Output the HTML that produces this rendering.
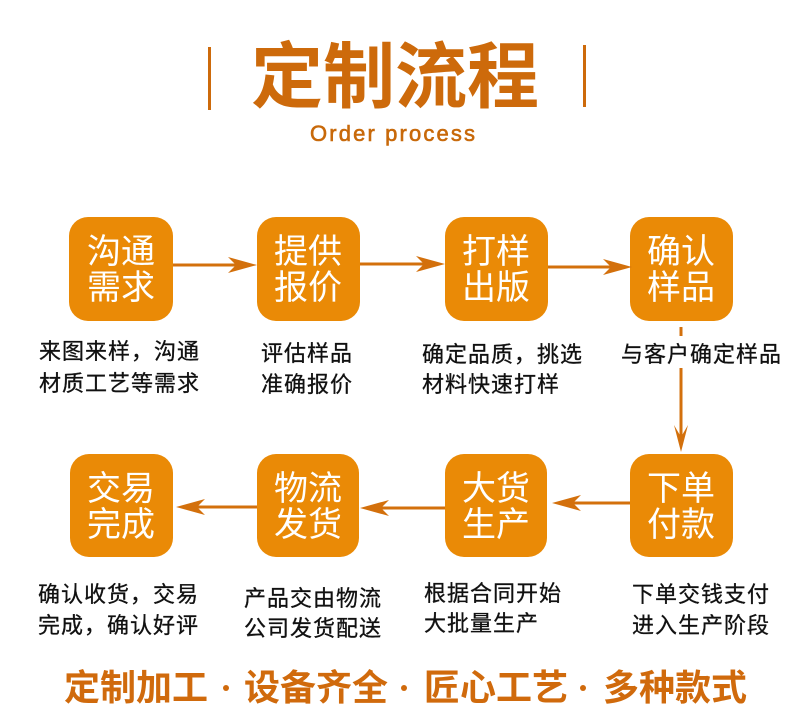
<!DOCTYPE html>
<html>
<head>
<meta charset="utf-8">
<style>
  html,body{margin:0;padding:0;background:#fff;}
  body{width:800px;height:727px;overflow:hidden;}
  svg{display:block;}
  .box{fill:#EA8A06;}
  .bt{font-family:"Liberation Sans","Noto Sans CJK SC",sans-serif;font-size:34px;fill:#fff;text-anchor:middle;}
  .d{font-family:"Liberation Sans","Noto Sans CJK SC",sans-serif;font-size:22px;fill:#111;letter-spacing:1px;stroke:#111;stroke-width:0.3;}
  .s{font-family:"Liberation Sans","Noto Sans CJK SC",sans-serif;font-size:36px;font-weight:700;fill:#D06A0C;}
  .ar{fill:#D3700C;}
</style>
</head>
<body>
<svg width="800" height="727" viewBox="0 0 800 727" xmlns="http://www.w3.org/2000/svg">
  <!-- Title -->
  <rect x="208" y="47" width="3" height="63" fill="#CD6A0B"/>
  <rect x="583" y="45" width="3" height="62" fill="#CD6A0B"/>
  <text x="395" y="102" text-anchor="middle" style="font-family:'Liberation Sans','Noto Sans CJK SC',sans-serif;font-size:72px;font-weight:700;fill:#CD6A0B;">定制流程</text>
  <text x="310" y="141" textLength="165" lengthAdjust="spacing" style="font-family:'Liberation Sans',sans-serif;font-size:22px;fill:#C8690A;stroke:#C8690A;stroke-width:0.6;">Order process</text>

  <!-- Row 1 boxes -->
  <rect class="box" x="69" y="217" width="104" height="104" rx="19"/>
  <rect class="box" x="257" y="217" width="103" height="104" rx="19"/>
  <rect class="box" x="445" y="217" width="103" height="104" rx="19"/>
  <rect class="box" x="630" y="217" width="103" height="104" rx="19"/>
  <text class="bt" x="121" y="263">沟通</text><text class="bt" x="121" y="299">需求</text>
  <text class="bt" x="308" y="263">提供</text><text class="bt" x="308" y="299">报价</text>
  <text class="bt" x="496" y="263">打样</text><text class="bt" x="496" y="299">出版</text>
  <text class="bt" x="681" y="263">确认</text><text class="bt" x="681" y="299">样品</text>

  <!-- Row 2 boxes -->
  <rect class="box" x="70" y="454" width="103" height="103" rx="19"/>
  <rect class="box" x="257" y="454" width="102" height="103" rx="19"/>
  <rect class="box" x="445" y="454" width="102" height="103" rx="19"/>
  <rect class="box" x="630" y="454" width="103" height="103" rx="19"/>
  <text class="bt" x="121" y="500">交易</text><text class="bt" x="121" y="536">完成</text>
  <text class="bt" x="308" y="500">物流</text><text class="bt" x="308" y="536">发货</text>
  <text class="bt" x="496" y="500">大货</text><text class="bt" x="496" y="536">生产</text>
  <text class="bt" x="681" y="500">下单</text><text class="bt" x="681" y="536">付款</text>

  <!-- Row 1 arrows (right) -->
  <rect class="ar" x="173" y="263.5" width="64" height="3"/>
  <polygon class="ar" points="257,265 228,257 236,265 228,273"/>
  <rect class="ar" x="360" y="262.5" width="65" height="3"/>
  <polygon class="ar" points="445,264 416,256 424,264 416,272"/>
  <rect class="ar" x="548" y="265.5" width="64" height="3"/>
  <polygon class="ar" points="632,267 603,259 611,267 603,275"/>

  <!-- Vertical arrow -->
  <rect class="ar" x="679.5" y="327" width="3" height="9"/>
  <rect class="ar" x="679.5" y="368" width="3" height="72"/>
  <polygon class="ar" points="681,452 674,425 681,437 688,425"/>

  <!-- Row 2 arrows (left) -->
  <rect class="ar" x="572" y="501.5" width="58" height="3"/>
  <polygon class="ar" points="552,503 581,495 573,503 581,511"/>
  <rect class="ar" x="380" y="506.5" width="65" height="3"/>
  <polygon class="ar" points="360,508 389,500 381,508 389,516"/>
  <rect class="ar" x="196" y="505.5" width="61" height="3"/>
  <polygon class="ar" points="176,507 205,499 197,507 205,515"/>

  <!-- Row 1 descriptions -->
  <text class="d" x="39" y="359">来图来样，沟通</text>
  <text class="d" x="39" y="391">材质工艺等需求</text>
  <text class="d" x="261" y="361">评估样品</text>
  <text class="d" x="261" y="392">准确报价</text>
  <text class="d" x="422" y="362">确定品质，挑选</text>
  <text class="d" x="422" y="392">材料快速打样</text>
  <text class="d" x="621" y="362">与客户确定样品</text>

  <!-- Row 2 descriptions -->
  <text class="d" x="38" y="602">确认收货，交易</text>
  <text class="d" x="38" y="633">完成，确认好评</text>
  <text class="d" x="244" y="606">产品交由物流</text>
  <text class="d" x="244" y="636">公司发货配送</text>
  <text class="d" x="424" y="601">根据合同开始</text>
  <text class="d" x="424" y="631">大批量生产</text>
  <text class="d" x="632" y="602">下单交钱支付</text>
  <text class="d" x="632" y="633">进入生产阶段</text>

  <!-- Slogan -->
  <text class="s" x="64" y="700">定制加工</text>
  <text class="s" x="244" y="700">设备齐全</text>
  <text class="s" x="424" y="700">匠心工艺</text>
  <text class="s" x="603" y="700">多种款式</text>
  <circle cx="226" cy="688" r="3" fill="#D06A0C"/>
  <circle cx="404" cy="688" r="3" fill="#D06A0C"/>
  <circle cx="583" cy="688" r="3" fill="#D06A0C"/>
</svg>
</body>
</html>
